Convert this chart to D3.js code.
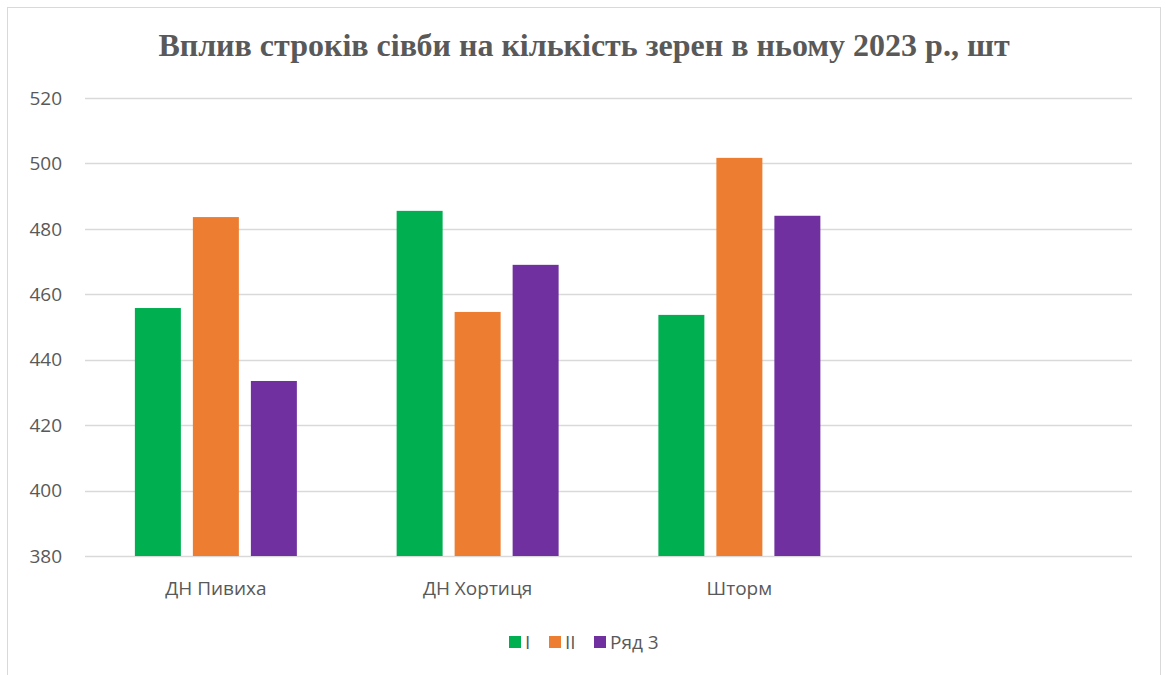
<!DOCTYPE html>
<html><head><meta charset="utf-8">
<script src="https://cdn.jsdelivr.net/npm/d3@7"></script>
<style>html,body{margin:0;padding:0;background:#fff;}</style>
</head><body>
<svg id="chart" width="1166" height="675"></svg>
<script>
const title = "Вплив строків сівби на кількість зерен в ньому 2023 р., шт";
const categories = ["ДН Пивиха", "ДН Хортиця", "Шторм", " "];
const seriesNames = ["I", "II", "Ряд 3"];
const seriesI = [455.8, 485.5, 453.7];
const seriesII = [483.6, 454.6, 501.7];
const seriesR3 = [433.5, 469.0, 484.0];
const yTicks = [380, 400, 420, 440, 460, 480, 500, 520];
const colors = ["#00B050", "#ED7D31", "#7030A0"];

const allSeries = [seriesI, seriesII, seriesR3];
const svg = d3.select("#chart");
svg.append("rect").attr("x", 7.5).attr("y", 7.5).attr("width", 1153).attr("height", 680)
  .attr("fill", "#fff").attr("stroke", "#D9D9D9").attr("stroke-width", 1);

const plot = {left: 85, right: 1132, top: 98, bottom: 556};
const x = d3.scaleBand().domain(categories).range([plot.left, plot.right]).padding(0);
const x1 = d3.scaleBand().domain(seriesNames).range([0, x.bandwidth()]).paddingInner(0.207).paddingOuter(0.86);
const y = d3.scaleLinear().domain([380, 520]).range([plot.bottom, plot.top]);
const font = "'Open Sans', sans-serif";

// gridlines
svg.append("g").selectAll("line").data(yTicks).join("line")
  .attr("x1", plot.left).attr("x2", plot.right)
  .attr("y1", d => Math.round(y(d)) + 0.5).attr("y2", d => Math.round(y(d)) + 0.5)
  .attr("stroke", "#D9D9D9").attr("stroke-width", 1.3);

// y labels
svg.append("g").selectAll("text").data(yTicks).join("text")
  .attr("x", 62).attr("y", d => y(d)).attr("dy", "0.35em").attr("text-anchor", "end")
  .attr("font-family", font).attr("font-size", 19).attr("fill", "#595959")
  .text(d => d);

// bars
const groups = svg.append("g").selectAll("g").data(categories.slice(0, 3)).join("g")
  .attr("transform", c => `translate(${x(c)},0)`);
groups.selectAll("rect").data((c, i) => seriesNames.map((s, j) => ({s, j, v: allSeries[j][i]}))).join("rect")
  .attr("x", d => x1(d.s)).attr("width", x1.bandwidth())
  .attr("y", d => y(d.v)).attr("height", d => y(380) - y(d.v))
  .attr("fill", d => colors[d.j]);

// category labels
svg.append("g").selectAll("text").data(categories).join("text")
  .attr("x", c => x(c) + x.bandwidth() / 2).attr("y", 588).attr("dy", "0.35em")
  .attr("text-anchor", "middle")
  .attr("font-family", font).attr("font-size", 19).attr("fill", "#595959")
  .text(c => c);

// title
svg.append("text").attr("x", 584).attr("y", 56).attr("text-anchor", "middle")
  .attr("font-family", "'Liberation Serif', 'Times New Roman', serif").attr("font-weight", "bold")
  .attr("font-size", 32).attr("fill", "#595959").text(title);

// legend
const legendX = [509, 549, 594];
const lg = svg.append("g").selectAll("g").data(seriesNames).join("g")
  .attr("transform", (d, i) => `translate(${legendX[i]},636)`);
lg.append("rect").attr("width", 12).attr("height", 12).attr("fill", (d, i) => colors[i]);
lg.append("text").attr("x", 16).attr("y", 6).attr("dy", "0.35em")
  .attr("font-family", font).attr("font-size", 19).attr("fill", "#595959")
  .text(d => d);
</script>
</body></html>
